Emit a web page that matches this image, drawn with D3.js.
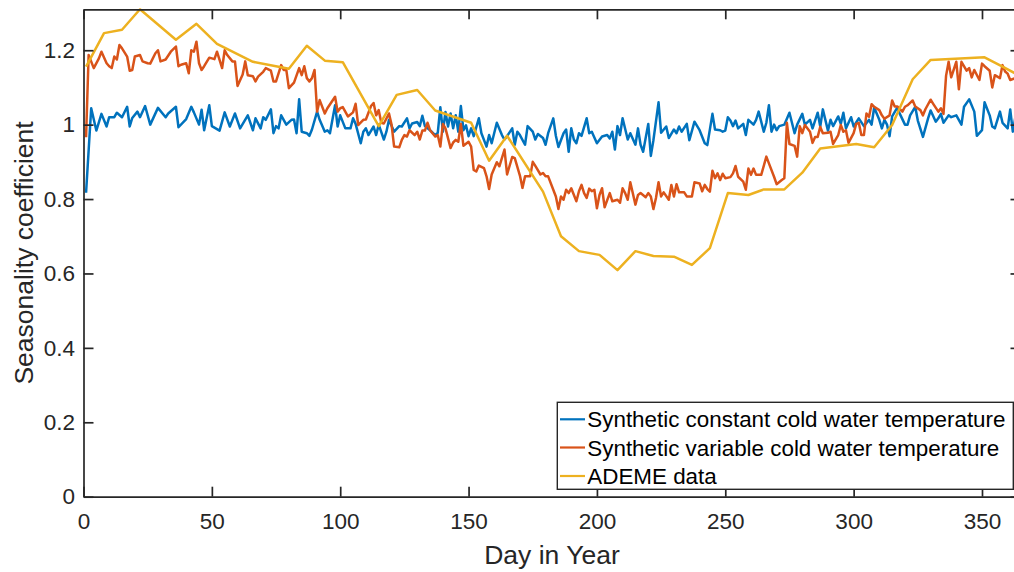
<!DOCTYPE html>
<html>
<head>
<meta charset="utf-8">
<script src="https://cdn.jsdelivr.net/npm/d3@7"></script>
<style>
  body { margin: 0; background: #fff; }
  svg { display: block; font-family: "Liberation Sans", Arial, sans-serif; }
  .axis path, .axis line { stroke: #262626; stroke-width: 1.7; }
  .axis text { fill: #262626; font-size: 22.5px; }
</style>
</head>
<body>
<div id="chart"></div>
<script>
// series names
var seriesNames = ["Synthetic constant cold water temperature",
                   "Synthetic variable cold water temperature",
                   "ADEME data"];
var xTicks = [0, 50, 100, 150, 200, 250, 300, 350];
var yTicks = [0, 0.2, 0.4, 0.6, 0.8, 1, 1.2];

// constant cold water temp (blue)
var blueDay = [1,3,5,7,9,10,12,13,15,17,18,19,21,22,24,26,29,32,33,36,37,40,42,43,45,46,47,49,50,53,55,57,59,61,64,66,67,69,70,71,73,74,75,76,77,79,81,82,83,84,85,87,88,89,91,92,94,95,96,98,99,100,102,104,105,106,108,109,110,111,113,114,115,117,118,119,121,123,124,126,127,128,130,131,132,133,135,137,138,139,140,141,142,143,144,145,146,147,148,149,150,151,152,154,155,157,158,159,161,163,164,165,167,168,169,170,172,173,175,176,177,179,180,181,183,184,185,187,188,189,190,191,192,193,194,196,197,198,200,202,204,205,206,207,208,209,210,212,213,215,216,217,218,220,221,222,224,225,227,228,230,231,232,233,235,236,238,240,242,243,245,246,248,249,250,251,252,253,254,255,257,258,259,261,262,263,265,266,267,268,269,270,271,273,275,277,278,280,281,283,284,286,287,288,290,291,292,294,295,296,297,299,300,302,304,306,307,308,310,311,312,313,314,315,317,318,320,321,322,324,325,327,329,330,332,333,334,335,337,338,340,342,343,345,347,348,350,351,353,354,355,357,358,360,361,362,363,364,365];
var blueVal = [0.817,1.044,0.984,1.029,0.995,1.02,1.02,1.032,1.02,1.048,0.995,1.018,1.035,1.02,1.05,1.0,1.045,1.02,1.03,1.048,0.993,1.015,1.048,1.033,1.0,1.04,0.985,1.052,0.996,0.984,1.033,0.995,1.03,0.99,1.025,0.985,1.017,0.99,1.02,1.013,1.041,0.977,0.996,0.99,1.025,1.0,1.013,1.014,0.977,1.068,0.981,0.977,0.97,0.987,1.035,1.013,0.981,0.985,0.977,1.052,0.995,1.025,0.99,0.99,1.017,1.002,0.95,0.981,0.99,0.972,0.995,0.972,1.0,0.96,0.981,1.013,0.981,0.996,0.995,1.017,0.99,1.003,1.007,0.996,1.024,0.996,0.985,0.972,0.978,1.047,0.981,1.034,0.995,1.03,0.99,1.025,0.981,1.05,0.985,0.998,0.969,0.99,0.969,1.017,0.977,0.941,0.972,0.95,1.005,0.972,0.96,0.969,0.99,0.946,0.981,0.972,0.946,0.996,0.981,0.96,0.975,0.964,0.946,0.977,1.017,0.97,0.94,0.977,0.987,0.927,0.99,0.96,0.95,0.977,0.97,1.017,0.977,0.981,0.95,0.968,0.972,0.963,0.981,0.933,0.996,0.972,1.017,0.96,0.977,0.946,0.99,0.946,0.927,1.002,0.916,0.958,1.06,0.978,0.995,0.964,0.987,0.977,0.995,0.981,1.002,0.958,1.008,0.985,0.95,0.945,1.029,0.987,0.985,0.981,0.984,1.02,1.011,0.996,1.011,0.99,1.002,0.972,1.013,1.0,1.013,1.035,0.981,1.005,1.052,0.981,1.0,0.985,0.996,1.0,1.032,0.977,1.0,1.029,1.0,1.013,0.99,1.032,0.995,1.041,0.984,1.013,0.996,1.022,1.002,1.032,0.99,1.02,0.995,1.017,0.996,1.013,1.0,1.046,1.013,0.99,1.013,1.0,0.969,1.022,1.046,1.029,1.0,1.0,1.025,1.048,1.011,0.967,1.017,1.038,1.008,1.017,1.029,1.005,1.025,1.02,1.025,1.0,1.048,1.068,1.035,0.97,0.985,1.06,1.025,0.995,0.99,1.035,1.005,0.99,1.041,0.981,1.02,0.985,1.0];

// variable cold water temp (orange)
var orangeDay = [1,2,4,6,7,9,10,11,12,13,14,15,17,18,19,20,22,23,25,26,28,29,30,32,34,36,37,38,40,41,42,43,44,45,46,47,49,51,52,54,55,56,58,59,60,62,63,64,66,67,68,70,71,73,74,75,77,78,79,80,82,84,85,86,87,88,89,90,91,92,94,95,98,99,100,101,103,105,106,107,109,110,112,113,114,115,116,117,119,120,121,123,124,125,126,127,129,130,131,132,133,134,135,137,138,139,140,141,143,144,145,146,147,148,150,151,152,153,154,156,157,158,159,161,162,164,165,167,168,170,171,172,174,175,176,178,179,180,181,183,184,185,186,187,188,189,190,192,193,194,195,196,197,198,199,200,201,202,203,205,206,208,209,210,211,212,213,215,216,217,219,220,221,222,223,224,225,226,228,229,230,231,232,234,235,237,238,240,241,242,243,244,245,246,247,248,249,250,252,253,254,255,257,258,259,260,261,262,264,266,267,269,270,272,273,274,275,277,278,279,280,281,283,284,285,286,287,288,290,291,292,294,295,296,297,298,300,301,302,303,304,305,306,307,308,310,311,312,314,315,316,317,319,320,321,323,324,326,327,328,330,331,333,334,335,336,337,338,340,341,342,344,345,346,347,349,350,351,353,354,355,357,358,359,360,361,363,364,365];
var orangeVal = [0.966,1.187,1.152,1.178,1.196,1.165,1.157,1.152,1.183,1.175,1.214,1.205,1.183,1.145,1.147,1.183,1.187,1.17,1.165,1.164,1.192,1.2,1.17,1.175,1.196,1.21,1.157,1.161,1.165,1.138,1.2,1.196,1.223,1.165,1.147,1.157,1.18,1.176,1.196,1.152,1.2,1.187,1.17,1.17,1.104,1.135,1.17,1.133,1.13,1.116,1.129,1.142,1.152,1.145,1.116,1.116,1.16,1.147,1.147,1.098,1.113,1.152,1.133,1.157,1.125,1.116,1.125,1.147,1.035,1.066,1.03,1.044,1.075,1.035,1.044,1.047,1.022,1.033,1.056,0.999,1.013,1.014,1.05,1.058,1.025,1.039,1.005,1.003,1.03,1.0,0.941,0.939,0.959,0.972,0.968,0.985,0.972,0.981,0.96,0.984,0.984,1.005,0.985,0.968,0.972,0.941,1.002,0.99,0.937,0.952,0.959,0.954,1.002,0.943,0.954,0.941,0.878,0.874,0.89,0.883,0.861,0.827,0.866,0.899,0.888,0.933,0.866,0.913,0.91,0.863,0.83,0.861,0.861,0.9,0.889,0.866,0.87,0.861,0.861,0.825,0.807,0.773,0.807,0.798,0.825,0.816,0.829,0.794,0.821,0.838,0.816,0.803,0.828,0.821,0.825,0.775,0.811,0.829,0.778,0.816,0.794,0.798,0.79,0.829,0.816,0.798,0.845,0.785,0.811,0.816,0.805,0.816,0.807,0.773,0.803,0.845,0.807,0.818,0.798,0.838,0.807,0.84,0.818,0.818,0.807,0.807,0.845,0.842,0.821,0.838,0.827,0.82,0.876,0.856,0.869,0.851,0.868,0.856,0.859,0.869,0.889,0.86,0.847,0.825,0.882,0.865,0.882,0.865,0.865,0.914,0.896,0.86,0.84,0.851,0.856,1.005,0.948,0.943,0.914,0.996,0.977,0.999,0.981,0.951,0.967,0.967,0.994,0.977,0.978,0.981,0.948,0.972,0.999,0.981,0.985,0.951,0.977,1.002,1.005,0.972,0.972,1.03,1.021,1.055,1.048,1.039,1.025,1.016,1.025,1.065,1.049,1.049,1.035,1.048,1.052,1.065,1.049,1.039,1.025,1.042,1.067,1.056,1.035,1.044,1.029,1.131,1.169,1.127,1.169,1.095,1.169,1.145,1.152,1.127,1.147,1.12,1.164,1.157,1.145,1.1,1.133,1.125,1.16,1.143,1.137,1.12,1.125,1.13,1.118];

// ADEME weekly data (yellow)
var ademeDay = [1,8,15,22,36,44,52,66,80,87,94,101,115,122,130,137,151,158,165,179,186,193,201,208,215,222,230,237,244,251,259,265,273,280,287,301,308,315,323,330,351,358,365];
var ademeVal = [1.156,1.246,1.255,1.31,1.228,1.271,1.217,1.169,1.15,1.212,1.172,1.168,0.996,1.08,1.093,1.038,1.005,0.903,0.97,0.82,0.70,0.66,0.65,0.609,0.66,0.647,0.645,0.623,0.668,0.816,0.811,0.826,0.826,0.871,0.936,0.948,0.939,0.999,1.122,1.174,1.181,1.156,1.13];

var colors = ["#0072BD", "#D95319", "#EDB120"];

function drawChart() {
    var W = 1014, H = 572;
    var mLeft = 83.5, mRight = 1020.5, mTop = 9.3, mBottom = 496.7;

    var svg = d3.select("#chart").append("svg")
        .attr("width", W)
        .attr("height", H);

    var x = d3.scaleLinear().domain([0, 365]).range([mLeft, mRight]);
    var y = d3.scaleLinear().domain([0, 1.31]).range([mBottom, mTop]);

    svg.append("defs").append("clipPath").attr("id", "clip")
        .append("rect")
        .attr("x", mLeft).attr("y", mTop - 1)
        .attr("width", mRight - mLeft).attr("height", mBottom - mTop + 1);

    var line = d3.line()
        .x(function (d) { return x(d[0]); })
        .y(function (d) { return y(d[1]); });

    var series = [
        d3.zip(blueDay, blueVal),
        d3.zip(orangeDay, orangeVal),
        d3.zip(ademeDay, ademeVal)
    ];

    var plot = svg.append("g").attr("clip-path", "url(#clip)");
    series.forEach(function (s, i) {
        plot.append("path")
            .datum(s)
            .attr("fill", "none")
            .attr("stroke", colors[i])
            .attr("stroke-width", 2.5)
            .attr("stroke-linejoin", "round")
            .attr("d", line);
    });

    // axes (box on, ticks inward)
    svg.append("g")
        .attr("class", "axis")
        .attr("transform", "translate(0," + mBottom + ")")
        .call(d3.axisBottom(x).tickValues(xTicks).tickSizeInner(-10).tickSizeOuter(0).tickPadding(16));

    svg.append("g")
        .attr("class", "axis")
        .attr("transform", "translate(0," + mTop + ")")
        .call(d3.axisTop(x).tickValues(xTicks).tickSizeInner(-10).tickSizeOuter(0).tickFormat(""));

    svg.append("g")
        .attr("class", "axis")
        .attr("transform", "translate(" + mLeft + ",0)")
        .call(d3.axisLeft(y).tickValues(yTicks).tickSizeInner(-10).tickSizeOuter(0).tickPadding(8.5)
            .tickFormat(d3.format("~g")));

    svg.append("g")
        .attr("class", "axis")
        .attr("transform", "translate(" + mRight + ",0)")
        .call(d3.axisRight(y).tickValues(yTicks).tickSizeInner(-10).tickSizeOuter(0).tickFormat(""));

    svg.selectAll(".axis").attr("font-family", null).attr("font-size", null);

    // axis labels
    svg.append("text")
        .attr("x", (mLeft + mRight) / 2)
        .attr("y", 564)
        .attr("text-anchor", "middle")
        .attr("fill", "#262626")
        .style("font-size", "26.5px")
        .text("Day in Year");

    svg.append("text")
        .attr("transform", "translate(33," + (mTop + mBottom) / 2 + ") rotate(-90)")
        .attr("text-anchor", "middle")
        .attr("fill", "#262626")
        .style("font-size", "26.5px")
        .text("Seasonality coefficient");

    // legend
    var lg = svg.append("g");
    lg.append("rect")
        .attr("x", 557.3).attr("y", 402.3)
        .attr("width", 456).attr("height", 87)
        .attr("fill", "#fff")
        .attr("stroke", "#262626")
        .attr("stroke-width", 1.4);

    var rowY = [419.3, 447.5, 476];
    seriesNames.forEach(function (name, i) {
        lg.append("line")
            .attr("x1", 560).attr("x2", 585)
            .attr("y1", rowY[i]).attr("y2", rowY[i])
            .attr("stroke", colors[i])
            .attr("stroke-width", 2.2);
        lg.append("text")
            .attr("x", 587.3)
            .attr("y", rowY[i] + 8)
            .attr("fill", "#000")
            .style("font-size", "22.4px")
            .text(name);
    });
}

drawChart();
</script>
</body>
</html>
